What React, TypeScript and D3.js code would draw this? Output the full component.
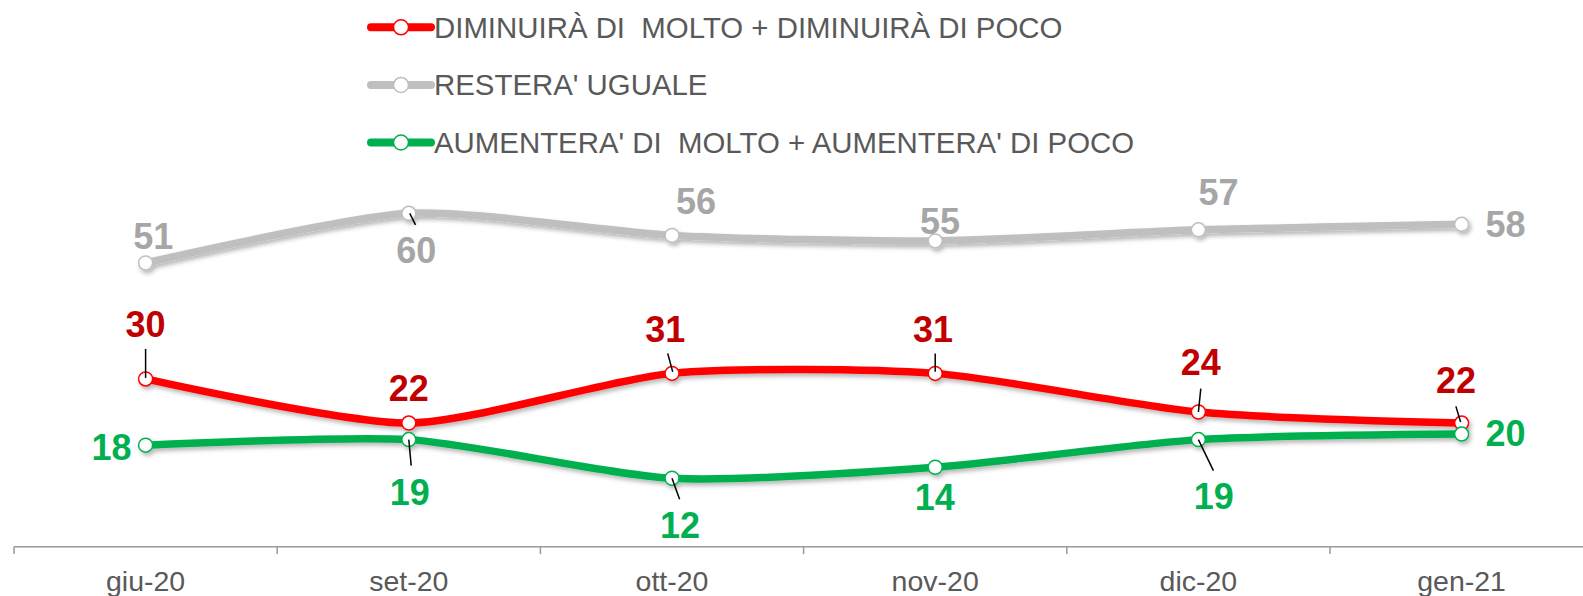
import React from 'react';
import * as d3 from 'd3';

const categories = ['giu-20', 'set-20', 'ott-20', 'nov-20', 'dic-20', 'gen-21'];
const diminuira = [30, 22, 31, 31, 24, 22];
const restera = [51, 60, 56, 55, 57, 58];
const aumentera = [18, 19, 12, 14, 19, 20];

const legendLabels = [
  'DIMINUIRÀ DI  MOLTO + DIMINUIRÀ DI POCO',
  "RESTERA' UGUALE",
  "AUMENTERA' DI  MOLTO + AUMENTERA' DI POCO",
];

type LabelPos = { dx: number; dy: number; anchor?: string; leader?: number[] };

// hand placed data labels, offsets from the point (like the excel original)
const labelPos: Record<string, LabelPos[]> = {
  red: [
    { dx: 0, dy: -41.6, leader: [0, -30, 0, -1] },
    { dx: 0, dy: -22.3 },
    { dx: -6.8, dy: -31.6, leader: [-4.3, -20, 0.7, -1.6] },
    { dx: -2.2, dy: -31.6, leader: [0, -20, 0, -1.6] },
    { dx: 2.4, dy: -36.7, leader: [2.4, -23.4, 0, 0] },
    { dx: -5.7, dy: -30, leader: [-5.7, -16.7, -1, -1] },
  ],
  gray: [
    { dx: 7.6, dy: -14.3 },
    { dx: 7.4, dy: 50, leader: [1, 0, 6.7, 11.6] },
    { dx: 24, dy: -21 },
    { dx: 4.7, dy: -6.7 },
    { dx: 20, dy: -25 },
    { dx: 24, dy: 12.7, anchor: 'start' },
  ],
  green: [
    { dx: -14, dy: 15, anchor: 'end' },
    { dx: 1, dy: 65, leader: [0, 0, 2.4, 26] },
    { dx: 8, dy: 60, leader: [0, 0, 7.6, 21] },
    { dx: -0.5, dy: 42.7 },
    { dx: 15.4, dy: 69.3, leader: [0, 0, 15, 31] },
    { dx: 24, dy: 12, anchor: 'start' },
  ],
};

const series = [
  { key: 'red', name: legendLabels[0], values: diminuira, color: '#FF0000', labelColor: '#C00000' },
  { key: 'gray', name: legendLabels[1], values: restera, color: '#BFBFBF', labelColor: '#A6A6A6' },
  { key: 'green', name: legendLabels[2], values: aumentera, color: '#00B050', labelColor: '#00B050' },
];

const W = 1583;
const H = 596;
const FONT = '"Liberation Sans", Arial, sans-serif';

export default function App() {
  const x = d3.scaleBand<string>().domain(categories).range([14, 14 + 6 * 263.2]).padding(0);
  const bw = x.bandwidth();
  const cx = (c: string) => (x(c) as number) + bw / 2;

  const y = d3.scaleLinear().domain([0, 70]).range([544.5, 544.5 - 70 * 5.52]);

  const line = d3
    .line<number>()
    .x((_, i) => cx(categories[i]))
    .y((d) => y(d))
    .curve(d3.curveCardinal.tension(0.3));

  const axisY = 546.7;

  return (
    <svg width={W} height={H} style={{ position: 'absolute', left: 0, top: 0, fontFamily: FONT }}>
      <defs>
        <filter id="shadow" x="-5%" y="-20%" width="110%" height="160%">
          <feDropShadow dx="2" dy="3" stdDeviation="2" floodColor="#000" floodOpacity="0.28" />
        </filter>
      </defs>
      <rect width={W} height={H} fill="#fff" />

      {/* legend */}
      {series.map((s, i) => {
        const ly = 27.3 + i * 57.6;
        return (
          <g key={s.key}>
            <line x1={371} x2={431} y1={ly} y2={ly} stroke={s.color} strokeWidth={8} strokeLinecap="round" />
            <circle cx={401} cy={ly} r={7.5} fill="#fff" stroke={s.color} strokeWidth={1.5} />
            <text x={434} y={ly} dy="0.35em" fontSize={29.4} fill="#595959" style={{ whiteSpace: 'pre' }}>
              {s.name}
            </text>
          </g>
        );
      })}

      {/* axis */}
      <line x1={14} x2={W} y1={axisY} y2={axisY} stroke="#999999" strokeWidth={1.5} />
      {categories.map((c) => (
        <g key={c}>
          <line x1={x(c)} x2={x(c)} y1={axisY} y2={554} stroke="#999999" strokeWidth={1.5} />
          <text x={cx(c)} y={590.5} textAnchor="middle" fontSize={28.5} fill="#595959">
            {c}
          </text>
        </g>
      ))}

      {/* lines + markers */}
      {series.map((s) => (
        <g key={s.key} filter="url(#shadow)">
          <path d={line(s.values) || ''} fill="none" stroke={s.color} strokeWidth={7.5} strokeLinecap="round" />
          {s.values.map((v, i) => (
            <circle key={i} cx={cx(categories[i])} cy={y(v)} r={7} fill="#fff" stroke={s.color} strokeWidth={1.5} />
          ))}
        </g>
      ))}

      {/* data labels */}
      {series.map((s) =>
        s.values.map((v, i) => {
          const p = labelPos[s.key][i];
          const px = cx(categories[i]);
          const py = y(v);
          return (
            <g key={s.key + i}>
              {p.leader && (
                <line
                  x1={px + p.leader[0]}
                  y1={py + p.leader[1]}
                  x2={px + p.leader[2]}
                  y2={py + p.leader[3]}
                  stroke="#000"
                  strokeWidth={1.5}
                />
              )}
              <text
                x={px + p.dx}
                y={py + p.dy}
                textAnchor={p.anchor || 'middle'}
                fontSize={36}
                fontWeight="bold"
                fill={s.labelColor}
              >
                {v}
              </text>
            </g>
          );
        })
      )}
    </svg>
  );
}
